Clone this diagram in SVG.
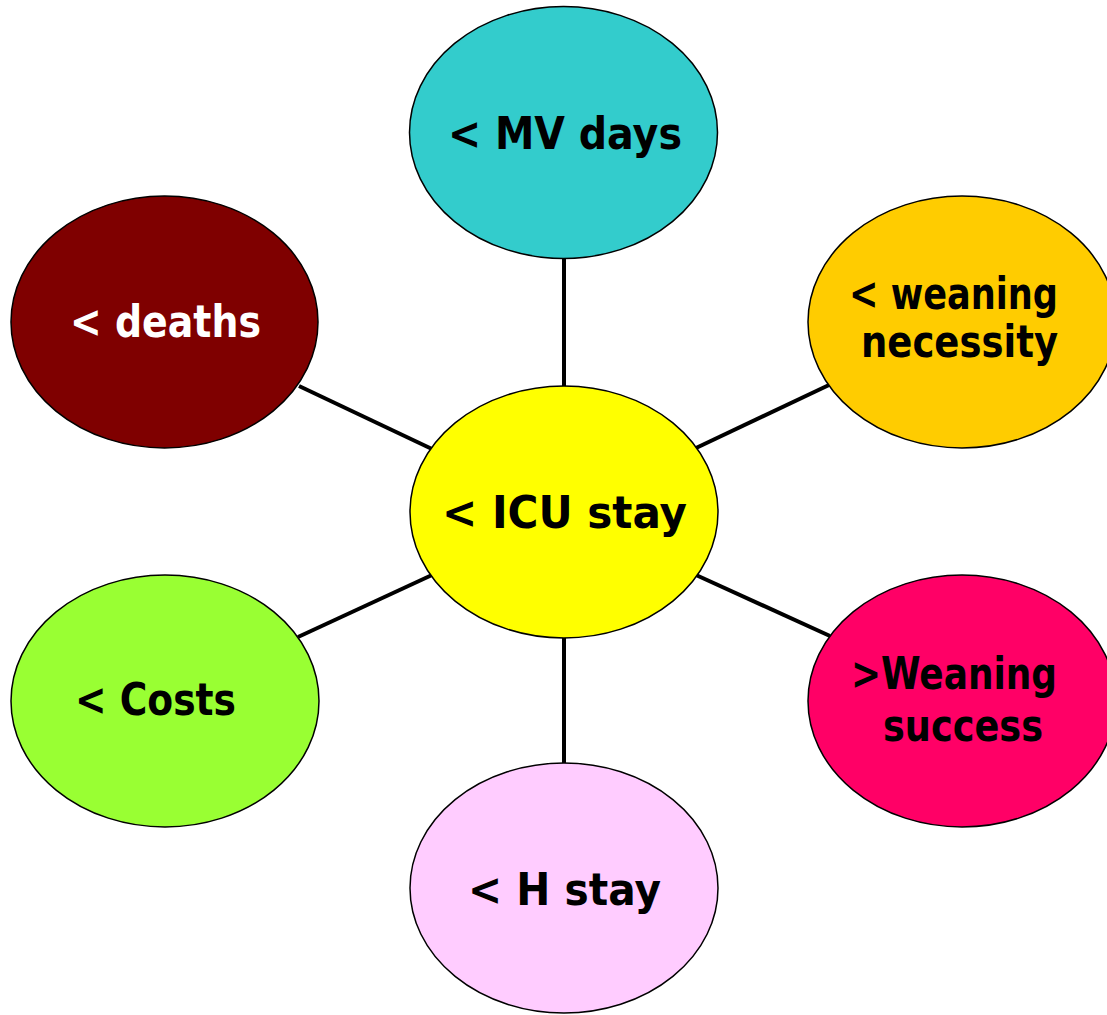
<svg xmlns="http://www.w3.org/2000/svg" width="1107" height="1015" viewBox="0 0 1107 1015">
<style>
.n{stroke:#000;stroke-width:1.5}
.t{font-family:"DejaVu Sans","Liberation Sans",sans-serif;font-weight:bold;font-size:45px;fill:#000}
.w{fill:#fff}
.c{stroke:#000;stroke-width:4;fill:none}
</style>
<rect width="1107" height="1015" fill="#fff"/>
<g id="connectors">
<line class="c" x1="564" y1="258" x2="564" y2="387"/>
<line class="c" x1="564" y1="637" x2="564" y2="764"/>
<line class="c" x1="299" y1="386" x2="432" y2="449"/>
<line class="c" x1="829" y1="385" x2="696" y2="448"/>
<line class="c" x1="298" y1="637" x2="432" y2="575"/>
<line class="c" x1="830" y1="636" x2="696" y2="575"/>
</g>
<g id="mv">
<ellipse class="n" cx="563.5" cy="132.5" rx="154" ry="126" fill="#33CCCC"/>
<text class="t" x="448" y="149" textLength="234" lengthAdjust="spacingAndGlyphs">&lt; MV days</text>
</g>
<g id="deaths">
<ellipse class="n" cx="164.5" cy="322" rx="153.5" ry="126" fill="#7F0000"/>
<text class="t w" x="70" y="337" textLength="191" lengthAdjust="spacingAndGlyphs">&lt; deaths</text>
</g>
<g id="necessity">
<ellipse class="n" cx="962" cy="322" rx="154" ry="126" fill="#FFCC00"/>
<text class="t" x="849" y="309" textLength="209" lengthAdjust="spacingAndGlyphs">&lt; weaning</text>
<text class="t" x="861" y="357" textLength="197" lengthAdjust="spacingAndGlyphs">necessity</text>
</g>
<g id="icu">
<ellipse class="n" cx="564" cy="512" rx="154" ry="126" fill="#FFFF00"/>
<text class="t" x="442" y="528" textLength="245" lengthAdjust="spacingAndGlyphs">&lt; ICU stay</text>
</g>
<g id="costs">
<ellipse class="n" cx="165" cy="701" rx="154" ry="126" fill="#99FF33"/>
<text class="t" x="75" y="715" textLength="161" lengthAdjust="spacingAndGlyphs">&lt; Costs</text>
</g>
<g id="success">
<ellipse class="n" cx="962" cy="701" rx="154" ry="126" fill="#FF0066"/>
<text class="t" x="851" y="689" textLength="206" lengthAdjust="spacingAndGlyphs">&gt;Weaning</text>
<text class="t" x="883" y="741" textLength="160" lengthAdjust="spacingAndGlyphs">success</text>
</g>
<g id="hstay">
<ellipse class="n" cx="564" cy="888" rx="154" ry="125" fill="#FFCCFF"/>
<text class="t" x="468" y="905" textLength="193" lengthAdjust="spacingAndGlyphs">&lt; H stay</text>
</g>
</svg>
